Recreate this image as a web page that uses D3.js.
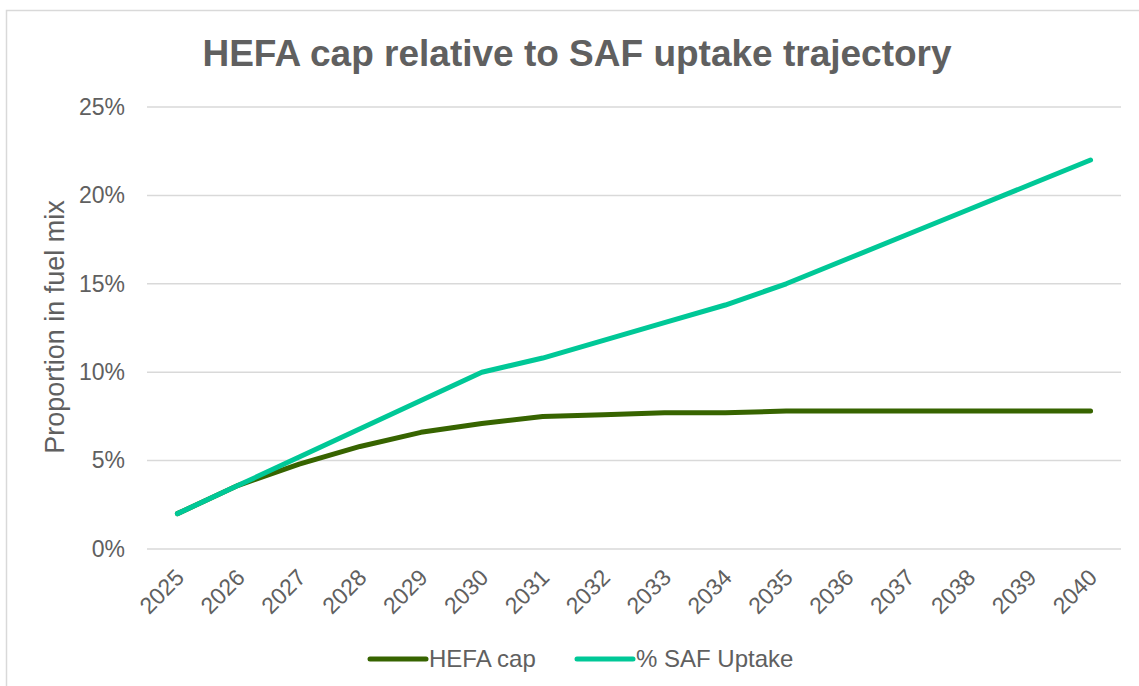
<!DOCTYPE html>
<html>
<head>
<meta charset="utf-8">
<script src="https://cdnjs.cloudflare.com/ajax/libs/d3/7.8.5/d3.min.js"></script>
<style>
  body { margin: 0; background: #fff; }
  text { font-family: "Liberation Sans", Arial, sans-serif; fill: #606060; }
</style>
</head>
<body>
<div id="chart"></div>
<script>
const years = ["2025", "2026", "2027", "2028", "2029", "2030", "2031", "2032",
  "2033", "2034", "2035", "2036", "2037", "2038", "2039", "2040"];
const hefaCap = [2.0, 3.6, 4.8, 5.8, 6.6, 7.1, 7.5, 7.6, 7.7, 7.7, 7.8, 7.8, 7.8, 7.8, 7.8, 7.8];
const safUptake = [2.0, 3.6, 5.2, 6.8, 8.4, 10.0, 10.8, 11.8, 12.8, 13.8, 15.0, 16.4, 17.8, 19.2, 20.6, 22.0];
const yTicks = [0, 5, 10, 15, 20, 25];

const series = [
  { name: "HEFA cap", values: hefaCap, color: "#376400" },
  { name: "% SAF Uptake", values: safUptake, color: "#00C897" }
];

const W = 1139, H = 686;
const margin = { top: 107, right: 18, bottom: 137, left: 147 };
const width = W - margin.left - margin.right,
  height = H - margin.top - margin.bottom;

const svg = d3.select("#chart").append("svg")
  .attr("width", W).attr("height", H);

// cadre extérieur
svg.append("rect")
  .attr("x", 6.5).attr("y", 10.5)
  .attr("width", W + 10).attr("height", H + 10)
  .attr("fill", "none").attr("stroke", "#d9d9d9").attr("stroke-width", 1.5);

// titre
svg.append("text")
  .attr("x", 577).attr("y", 66)
  .attr("text-anchor", "middle")
  .attr("font-size", "37px").attr("font-weight", "bold")
  .attr("fill", "#646464")
  .text("HEFA cap relative to SAF uptake trajectory");

const g = svg.append("g")
  .attr("transform", `translate(${margin.left},${margin.top})`);

const x = d3.scaleBand().domain(years).range([0, width]);
const y = d3.scaleLinear().domain([0, 25]).range([height, 0]);

// grille
g.append("g")
  .selectAll("line")
  .data(yTicks)
  .join("line")
  .attr("x1", 0).attr("x2", width)
  .attr("y1", d => y(d)).attr("y2", d => y(d))
  .attr("stroke", "#d9d9d9").attr("stroke-width", 1.5);

// axe Y
const yAxis = g.append("g")
  .call(d3.axisLeft(y).tickValues(yTicks).tickFormat(d => d + "%").tickSize(0).tickPadding(22));
yAxis.select(".domain").remove();
yAxis.selectAll("text")
  .attr("font-size", "23px").attr("fill", "#606060")
  .attr("font-family", "Liberation Sans, Arial, sans-serif");

// axe X
const xAxis = g.append("g")
  .attr("transform", `translate(0,${height})`)
  .call(d3.axisBottom(x).tickSize(0));
xAxis.select(".domain").remove();
xAxis.selectAll("text")
  .attr("font-size", "23px").attr("fill", "#606060")
  .attr("font-family", "Liberation Sans, Arial, sans-serif")
  .attr("text-anchor", "end")
  .attr("dy", null)
  .attr("y", 0)
  .attr("transform", "translate(8,30) rotate(-45)");

// titre axe Y
svg.append("text")
  .attr("transform", "translate(64,327) rotate(-90)")
  .attr("text-anchor", "middle")
  .attr("font-size", "27px")
  .text("Proportion in fuel mix");

// courbes
const line = d3.line()
  .x((d, i) => x(years[i]) + x.bandwidth() / 2)
  .y(d => y(d));

g.selectAll(".serie")
  .data(series)
  .join("path")
  .attr("class", "serie")
  .attr("fill", "none")
  .attr("stroke", d => d.color)
  .attr("stroke-width", 5)
  .attr("stroke-linecap", "round")
  .attr("stroke-linejoin", "round")
  .attr("d", d => line(d.values));

// légende
const legendPos = [370, 577];
const legend = svg.append("g");
series.forEach((s, i) => {
  const lx = legendPos[i];
  legend.append("line")
    .attr("x1", lx).attr("x2", lx + 56)
    .attr("y1", 659).attr("y2", 659)
    .attr("stroke", s.color).attr("stroke-width", 5)
    .attr("stroke-linecap", "round");
  legend.append("text")
    .attr("x", lx + 59).attr("y", 667)
    .attr("font-size", "24px")
    .text(s.name);
});
</script>
</body>
</html>
